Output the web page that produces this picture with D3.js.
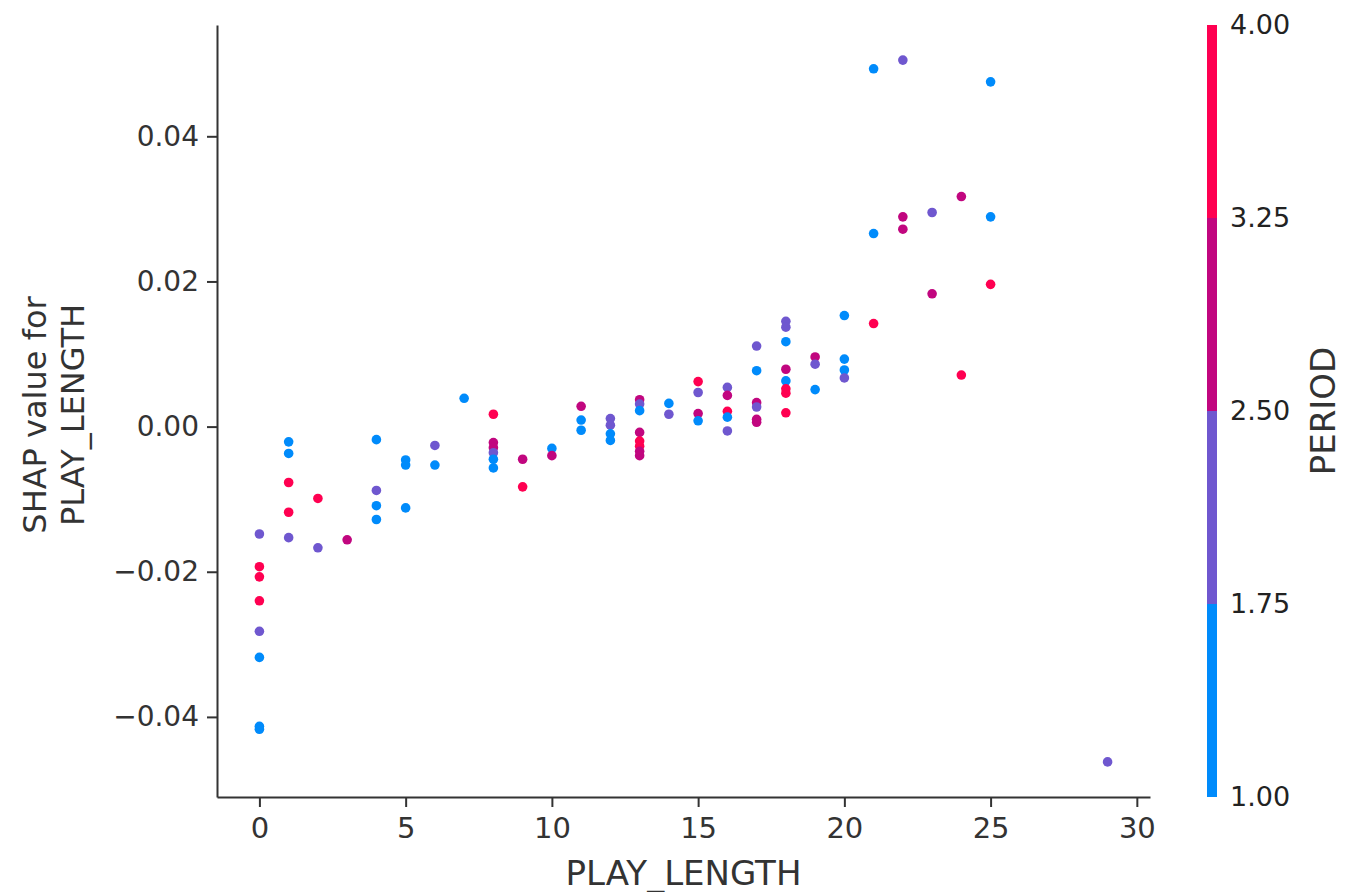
<!DOCTYPE html>
<html>
<head>
<meta charset="utf-8">
<script src="https://cdn.jsdelivr.net/npm/d3@7"></script>
<style>
  html, body { margin: 0; padding: 0; background: #fff; }
  svg { display: block; font-family: "DejaVu Sans", sans-serif; }
</style>
</head>
<body>
<svg id="chart" width="1346" height="892"></svg>
<script>
// PLAY_LENGTH feature value for each sample
const playLength = [
  0, 0, 0, 0, 0, 0, 0, 0,
  1, 1, 1, 1, 1,
  2, 2,
  3,
  4, 4, 4, 4,
  5, 5, 5,
  6, 6,
  7,
  8, 8, 8, 8, 8, 8,
  9, 9,
  10, 10,
  11, 11, 11,
  12, 12, 12, 12,
  13, 13, 13, 13, 13, 13, 13, 13,
  14, 14,
  15, 15, 15, 15,
  16, 16, 16, 16, 16,
  17, 17, 17, 17, 17, 17,
  18, 18, 18, 18, 18, 18, 18, 18,
  19, 19, 19,
  20, 20, 20, 20,
  21, 21, 21,
  22, 22, 22,
  23, 23,
  24, 24,
  25, 25, 25,
  29
];

// SHAP value for PLAY_LENGTH, one per sample
const shapValue = [
  -0.0148, -0.0193, -0.0207, -0.0240, -0.0282, -0.0318, -0.0413, -0.0417,
  -0.0021, -0.0037, -0.0077, -0.0118, -0.0153,
  -0.0099, -0.0167,
  -0.0156,
  -0.0018, -0.0088, -0.0109, -0.0128,
  -0.0046, -0.0053, -0.0112,
  -0.0026, -0.0053,
  0.0039,
  0.0017, -0.0022, -0.0029, -0.0036, -0.0045, -0.0057,
  -0.0045, -0.0083,
  -0.0030, -0.0040,
  0.0028, 0.0009, -0.0005,
  0.0011, 0.0002, -0.0010, -0.0019,
  0.0037, 0.0031, 0.0022, -0.0008, -0.0020, -0.0027, -0.0034, -0.0040,
  0.0032, 0.0017,
  0.0062, 0.0047, 0.0018, 0.0008,
  0.0054, 0.0043, 0.0021, 0.0013, -0.0006,
  0.0111, 0.0077, 0.0033, 0.0027, 0.0010, 0.0006,
  0.0145, 0.0137, 0.0117, 0.0079, 0.0063, 0.0052, 0.0046, 0.0019,
  0.0096, 0.0086, 0.0051,
  0.0153, 0.0093, 0.0078, 0.0067,
  0.0493, 0.0266, 0.0142,
  0.0505, 0.0289, 0.0272,
  0.0295, 0.0183,
  0.0317, 0.0071,
  0.0475, 0.0289, 0.0196,
  -0.0462
];

// PERIOD of each sample (interaction colouring)
const period = [
  2, 4, 4, 4, 2, 1, 1, 1,
  1, 1, 4, 4, 2,
  4, 2,
  3,
  1, 2, 1, 1,
  1, 1, 1,
  2, 1,
  1,
  4, 3, 3, 2, 1, 1,
  3, 4,
  1, 3,
  3, 1, 1,
  2, 2, 1, 1,
  3, 2, 1, 3, 4, 4, 3, 3,
  1, 2,
  4, 2, 3, 1,
  2, 3, 4, 1, 2,
  2, 1, 3, 2, 3, 3,
  2, 2, 1, 3, 1, 4, 4, 4,
  3, 2, 1,
  1, 1, 1, 2,
  1, 1, 4,
  2, 3, 3,
  2, 3,
  3, 4,
  1, 1, 4,
  2
];

const xTicks = [0, 5, 10, 15, 20, 25, 30];
const yTicks = [-0.04, -0.02, 0.00, 0.02, 0.04];
const periodTicks = [1.00, 1.75, 2.50, 3.25, 4.00];
const periodColors = ["#008bfb", "#6f57cf", "#c1067f", "#ff0051"];

const svg = d3.select("#chart");
const plot = { left: 217, right: 1150, top: 25, bottom: 797 };
const ink = "#333333";

// Data ranges padded by 5% on each side
const xExt = d3.extent(playLength), yExt = d3.extent(shapValue);
const xPad = (xExt[1] - xExt[0]) * 0.05, yPad = (yExt[1] - yExt[0]) * 0.05;

const x = d3.scaleLinear().domain([xExt[0] - xPad, xExt[1] + xPad]).range([plot.left, plot.right]);
const y = d3.scaleLinear().domain([yExt[0] - yPad, yExt[1] + yPad]).range([plot.bottom, plot.top]);

const color = d3.scaleThreshold().domain([1.75, 2.5, 3.25]).range(periodColors);

const minus = s => s.replace("-", "\u2212");

// Points
const pts = playLength.map((v, i) => ({ x: v, y: shapValue[i], p: period[i] }));
svg.append("g")
  .selectAll("circle")
  .data(pts)
  .join("circle")
  .attr("cx", d => x(d.x))
  .attr("cy", d => y(d.y))
  .attr("r", 4.8)
  .attr("fill", d => color(d.p));

// Axes (left and bottom spines only)
const xAxis = svg.append("g")
  .attr("transform", `translate(0,${plot.bottom})`)
  .call(d3.axisBottom(x).tickValues(xTicks).tickFormat(d3.format("d"))
    .tickSize(10).tickSizeOuter(0).tickPadding(10));

const yAxis = svg.append("g")
  .attr("transform", `translate(${plot.left},0)`)
  .call(d3.axisLeft(y).tickValues(yTicks).tickFormat(d => minus(d3.format(".2f")(d)))
    .tickSize(10).tickSizeOuter(0).tickPadding(8));

[xAxis, yAxis].forEach(g => {
  g.select(".domain").attr("stroke", ink).attr("stroke-width", 2);
  g.selectAll(".tick line").attr("stroke", ink).attr("stroke-width", 2);
  g.selectAll(".tick text").attr("fill", ink).attr("font-family", "DejaVu Sans");
});
xAxis.selectAll(".tick text").attr("font-size", 29);
yAxis.selectAll(".tick text").attr("font-size", 28);

// Axis titles
svg.append("text")
  .attr("x", (plot.left + plot.right) / 2)
  .attr("y", 885)
  .attr("text-anchor", "middle")
  .attr("fill", ink)
  .attr("font-size", 34)
  .text("PLAY_LENGTH");

const yl = svg.append("text")
  .attr("transform", `translate(46,${(plot.top + plot.bottom) / 2 + 4}) rotate(-90)`)
  .attr("text-anchor", "middle")
  .attr("fill", ink)
  .attr("font-size", 32);
yl.append("tspan").attr("x", 0).attr("dy", 0).text("SHAP value for");
yl.append("tspan").attr("x", 0).attr("dy", 38).text("PLAY_LENGTH");

// Colour bar
const cb = { x: 1207, w: 10 };
const pScale = d3.scaleLinear().domain([1, 4]).range([plot.bottom, plot.top]);
const bins = [1, 1.75, 2.5, 3.25, 4];
svg.append("g")
  .selectAll("rect")
  .data(d3.pairs(bins))
  .join("rect")
  .attr("x", cb.x)
  .attr("width", cb.w)
  .attr("y", d => pScale(d[1]))
  .attr("height", d => pScale(d[0]) - pScale(d[1]))
  .attr("fill", d => color((d[0] + d[1]) / 2));

const cbAxis = svg.append("g")
  .attr("transform", `translate(${cb.x + cb.w},0)`)
  .call(d3.axisRight(pScale).tickValues(periodTicks).tickFormat(d3.format(".2f")).tickSize(0).tickPadding(13));
cbAxis.select(".domain").remove();
cbAxis.selectAll(".tick text").attr("fill", "#222").attr("font-size", 27).attr("font-family", "DejaVu Sans");

svg.append("text")
  .attr("transform", `translate(1335,${(plot.top + plot.bottom) / 2}) rotate(-90)`)
  .attr("text-anchor", "middle")
  .attr("fill", ink)
  .attr("font-size", 34)
  .text("PERIOD");
</script>
</body>
</html>
